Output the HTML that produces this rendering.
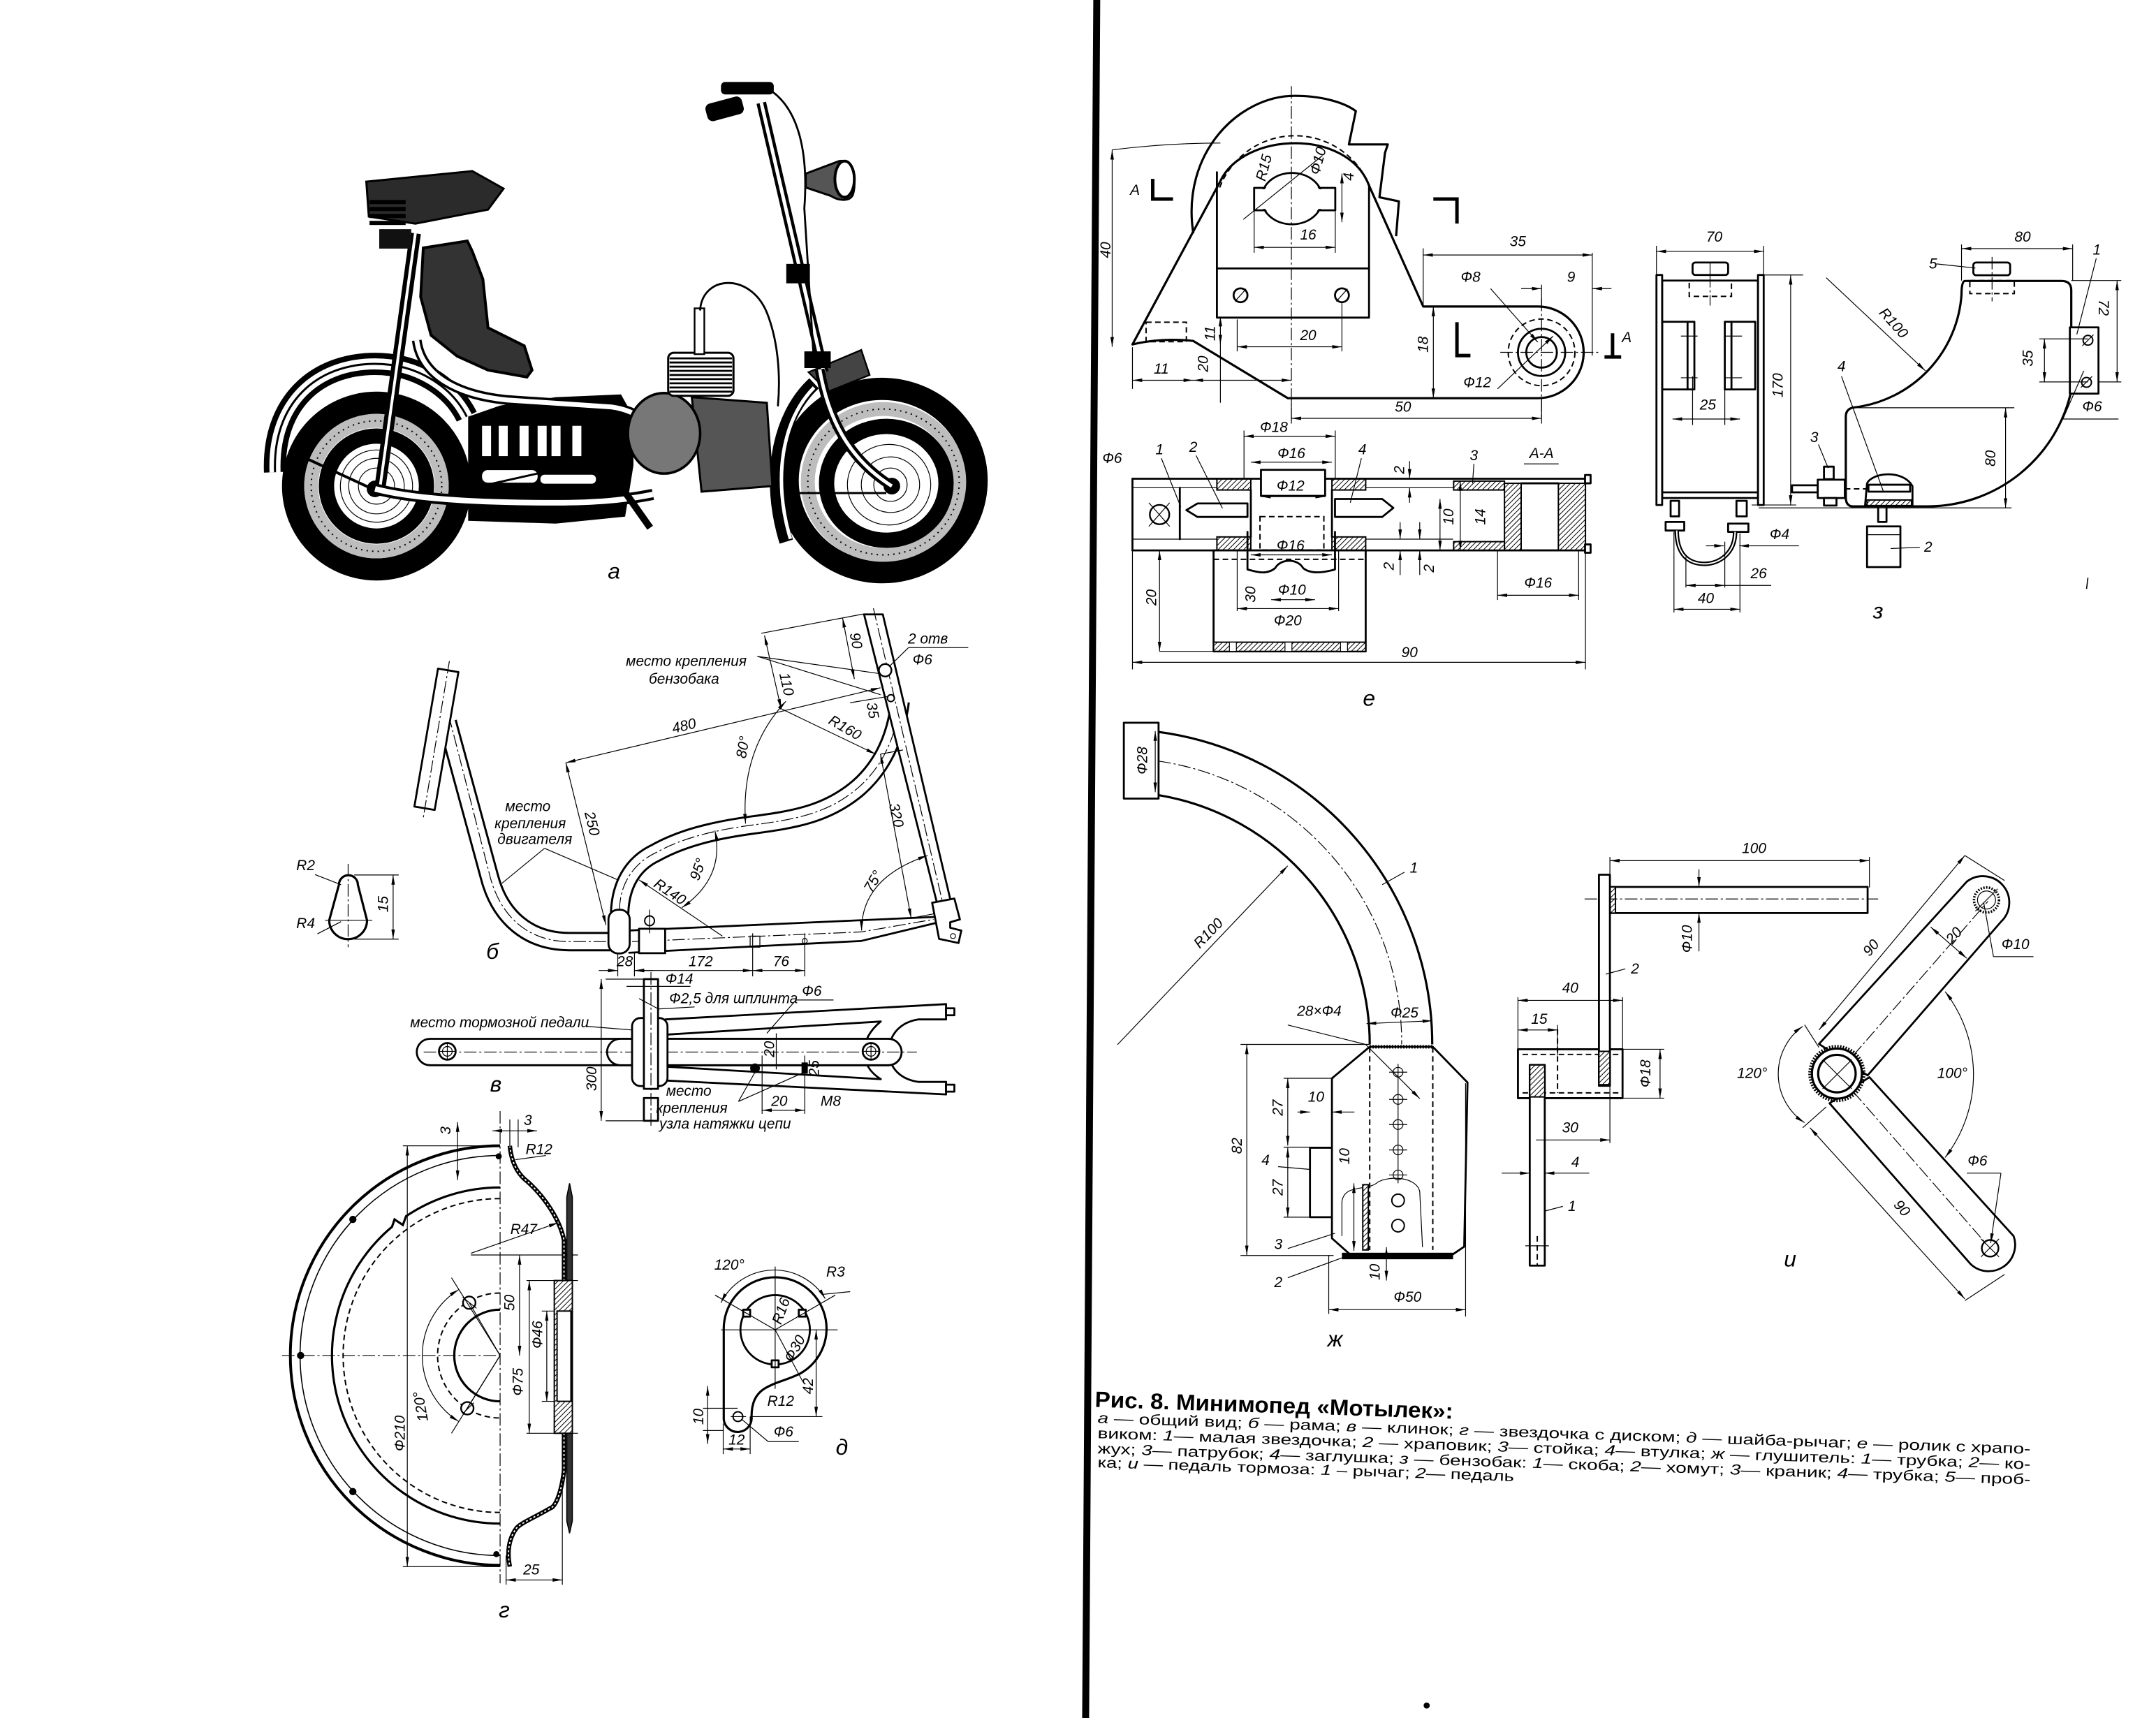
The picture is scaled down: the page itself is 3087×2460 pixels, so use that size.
<!DOCTYPE html>
<html><head><meta charset="utf-8">
<style>
html,body{margin:0;padding:0;background:#fff;}
svg{display:block;}
.o{fill:none;stroke:#000;stroke-width:1.4;stroke-linejoin:round;stroke-linecap:round}
.ow{fill:#fff;stroke:#000;stroke-width:1.4;stroke-linejoin:round}
.t{fill:none;stroke:#000;stroke-width:.6}
.m{fill:none;stroke:#000;stroke-width:.6;marker-start:url(#ar);marker-end:url(#ar)}
.me{fill:none;stroke:#000;stroke-width:.6;marker-end:url(#ar)}
.c{fill:none;stroke:#000;stroke-width:.6;stroke-dasharray:9 2 1.5 2}
.hd{fill:none;stroke:#000;stroke-width:1;stroke-dasharray:4 2.5}
.hz{fill:url(#hat);stroke:#000;stroke-width:1}
.l{font-family:"Liberation Sans",sans-serif;font-style:italic;font-size:10.5px;text-anchor:middle;dominant-baseline:central;fill:#000}
.bg{font-size:16px}
.cap{font-family:"Liberation Sans",sans-serif;fill:#000}
.i{font-style:italic}
</style></head><body>
<svg width="3087" height="2460" viewBox="0 0 1552 1237" preserveAspectRatio="none" xmlns="http://www.w3.org/2000/svg">
<defs>
<marker id="ar" viewBox="0 0 10 10" refX="10" refY="5" markerWidth="7" markerHeight="7" markerUnits="userSpaceOnUse" orient="auto-start-reverse"><path d="M0 3.2L10 5L0 6.8z" fill="#000"/></marker>
<pattern id="hat" width="2.6" height="2.6" patternUnits="userSpaceOnUse" patternTransform="rotate(45)"><rect width="2.6" height="2.6" fill="#fff"/><line x1="0" y1="0" x2="0" y2="2.6" stroke="#000" stroke-width="1"/></pattern>
</defs>
<rect width="1552" height="1237" fill="#fff"/>

<!-- gutter -->
<line x1="789.5" y1="0" x2="781.5" y2="1237" stroke="#000" stroke-width="5"/>
<circle cx="1027" cy="1228" r="2.2" fill="#000"/>
<line x1="1503" y1="416" x2="1502" y2="424" stroke="#000" stroke-width="0.8"/>

<!-- ================= MOTORCYCLE (a) ================= -->
<g>
<!-- rear wheel -->
<circle cx="271" cy="350" r="68" fill="#fff"/>
<circle cx="271" cy="350" r="60" fill="none" stroke="#000" stroke-width="16"/>
<circle cx="271" cy="350" r="47" fill="none" stroke="#bdbdbd" stroke-width="10"/>
<circle cx="271" cy="350" r="47" fill="none" stroke="#000" stroke-width="1" stroke-dasharray="1 3"/>
<circle cx="271" cy="350" r="36" fill="none" stroke="#000" stroke-width="11"/>
<circle cx="271" cy="350" r="26" class="t"/>
<circle cx="271" cy="350" r="20" class="t"/>
<circle cx="271" cy="350" r="13" class="t"/>
<circle cx="270" cy="352" r="6" fill="#000"/>
<!-- rear fender -->
<path d="M198 340 C196 290 228 262 270 262 C300 262 325 278 336 300" fill="none" stroke="#000" stroke-width="16"/>
<path d="M198 340 C196 290 228 262 270 262 C300 262 325 278 336 300" fill="none" stroke="#fff" stroke-width="8"/>
<path d="M198 340 C196 290 228 262 270 262 C300 262 325 278 336 300" fill="none" stroke="#000" stroke-width="1.5"/>

<!-- front wheel -->
<ellipse cx="635" cy="346" rx="76" ry="74" fill="#fff"/>
<ellipse cx="635" cy="346" rx="68" ry="66" fill="none" stroke="#000" stroke-width="16"/>
<ellipse cx="636" cy="347" rx="54.5" ry="52.5" fill="none" stroke="#bdbdbd" stroke-width="10"/>
<ellipse cx="636" cy="347" rx="54.5" ry="52.5" fill="none" stroke="#000" stroke-width="1" stroke-dasharray="1 3"/>
<ellipse cx="638" cy="348" rx="43" ry="41" fill="none" stroke="#000" stroke-width="11"/>
<ellipse cx="640" cy="349" rx="30" ry="29" class="t"/>
<ellipse cx="641" cy="349" rx="21" ry="20" class="t"/>
<ellipse cx="641" cy="349" rx="12" ry="12" class="t"/>
<circle cx="642" cy="350" r="6" fill="#000"/>
<path d="M586 276 C560 300 552 345 566 390" fill="none" stroke="#000" stroke-width="10"/>
<path d="M586 279 C563 302 556 345 569 388" fill="none" stroke="#fff" stroke-width="2.5"/>
<polygon points="582,268 620,252 626,270 596,282" fill="#444" stroke="#000" stroke-width="1.2"/>

<!-- body black block -->
<polygon points="337,300 360,292 400,286 447,284 456,300 456,335 450,372 400,377 337,375" fill="#000"/>
<rect x="347" y="306.6" width="6.5" height="21.8" fill="#fff"/>
<rect x="359" y="306.6" width="6.5" height="21.8" fill="#fff"/>
<rect x="374" y="306.6" width="6.5" height="21.8" fill="#fff"/>
<rect x="387" y="306.6" width="6.5" height="21.8" fill="#fff"/>
<rect x="397" y="306.6" width="6.5" height="21.8" fill="#fff"/>
<rect x="412" y="306.6" width="6.5" height="21.8" fill="#fff"/>
<rect x="347" y="338.5" width="40" height="9" rx="4" fill="#fff"/>
<rect x="389" y="341.8" width="40" height="6.5" rx="3" fill="#fff"/>
<!-- seat post -->
<path d="M299 168 L273 355" stroke="#000" stroke-width="8" fill="none"/>
<path d="M299 168 L273 355" stroke="#fff" stroke-width="2" fill="none"/>
<!-- frame tube around tank -->
<path d="M300 245 C303 268 325 284 365 288 L440 293 C455 295 465 302 472 310" stroke="#000" stroke-width="7" fill="none"/>
<path d="M300 245 C303 268 325 284 365 288 L440 293 C455 295 465 302 472 310" stroke="#fff" stroke-width="3.5" fill="none"/>
<!-- tank panel -->
<polygon points="304.7,178.5 336.4,173.5 340,181 347.6,201 351.3,236 377.4,249 383,266.5 379.3,271.5 351.3,266.5 329,256.4 310.3,241.4 302.8,213.7" fill="#333" stroke="#000" stroke-width="2"/>
<!-- seat -->
<polygon points="263.7,130.8 340,123.2 362.5,135.8 351.3,150.9 299,161 265.5,155.9" fill="#2b2b2b" stroke="#000" stroke-width="1.5"/>
<rect x="266" y="144" width="26" height="3" fill="#000"/>
<rect x="266" y="149" width="26" height="3" fill="#000"/>
<rect x="266" y="154" width="26" height="3" fill="#000"/>
<rect x="266" y="159" width="26" height="3" fill="#000"/>
<rect x="273" y="165" width="23" height="14" fill="#111"/>
<!-- lower tube -->
<path d="M270 352 C300 360 350 362 400 362 C430 362 450 360 470 356" stroke="#000" stroke-width="8" fill="none"/>
<path d="M270 352 C300 360 350 362 400 362 C430 362 450 360 470 356" stroke="#fff" stroke-width="4" fill="none"/>
<line x1="216" y1="328" x2="268" y2="352" stroke="#000" stroke-width="2"/>
<line x1="324" y1="355" x2="436" y2="330" stroke="#000" stroke-width="1.5"/>
<line x1="430" y1="326" x2="468" y2="380" stroke="#000" stroke-width="5"/>
<!-- engine -->
<path d="M498 286 L552 290 L556 350 L505 354 Z" fill="#555" stroke="#000" stroke-width="1.5"/>
<ellipse cx="478" cy="312" rx="26" ry="29" fill="#777" stroke="#000" stroke-width="1.8"/>
<rect x="481" y="254" width="47" height="31" rx="4" fill="#fff" stroke="#000" stroke-width="1.5"/>
<g stroke="#000" stroke-width="1.4">
<line x1="482" y1="258" x2="527" y2="258"/><line x1="482" y1="261" x2="527" y2="261"/><line x1="482" y1="264" x2="527" y2="264"/><line x1="482" y1="267" x2="527" y2="267"/><line x1="482" y1="270" x2="527" y2="270"/><line x1="482" y1="273" x2="527" y2="273"/><line x1="482" y1="276" x2="527" y2="276"/><line x1="482" y1="279" x2="527" y2="279"/><line x1="482" y1="282" x2="527" y2="282"/>
</g>
<rect x="500" y="222" width="7" height="33" fill="#fff" stroke="#000" stroke-width="1.2"/>
<path d="M504 223 C506 198 540 196 552 225 C560 245 562 270 560 292" class="o"/>
<!-- steering -->
<path d="M548 74 L593 268" stroke="#000" stroke-width="7" fill="none"/>
<path d="M548 74 L593 268" stroke="#fff" stroke-width="2.5" fill="none"/>
<path d="M556 66 C575 80 582 110 579 150 L586 262" class="o"/>
<rect x="508" y="72" width="27" height="13" rx="4" fill="#000" transform="rotate(-15 521 78)"/>
<rect x="519" y="59" width="38" height="9" rx="3" fill="#000"/>
<rect x="566" y="190" width="17" height="14" fill="#000"/>
<rect x="579" y="253" width="19" height="12" fill="#000"/>
<path d="M580 125 L604 116 C614 114 617 130 614 140 C612 145 604 145 598 141 L580 135 Z" fill="#555" stroke="#000" stroke-width="1.5"/>
<ellipse cx="608" cy="129" rx="7" ry="13" fill="#fff" stroke="#000" stroke-width="2"/>
<path d="M590 266 C596 300 610 330 642 350" stroke="#000" stroke-width="7" fill="none"/>
<path d="M590 266 C596 300 610 330 642 350" stroke="#fff" stroke-width="2.5" fill="none"/>
<line x1="571" y1="355" x2="638" y2="355" stroke="#000" stroke-width="1.5"/>
<text class="l bg" x="442" y="411">а</text>
</g>

<!-- ================= FRAME (б) ================= -->
<g>
<path d="M322 520 L352.5 632 C360 660 380 678 410 678 L440 678" fill="none" stroke="#000" stroke-width="14"/>
<path d="M322 520 L352.5 632 C360 660 380 678 410 678 L440 678" fill="none" stroke="#fff" stroke-width="11"/>
<path d="M446 660 C446 638 455 622 472 614 C490 604 512 598 542 594 C572 590 596 586 618 567 C636 551 645 530 648 505" fill="none" stroke="#000" stroke-width="14"/>
<path d="M446 660 C446 638 455 622 472 614 C490 604 512 598 542 594 C572 590 596 586 618 567 C636 551 645 530 648 505" fill="none" stroke="#fff" stroke-width="11"/>
<path class="c" d="M323 515 L353 632 C361 661 381 678 410 678 L440 678"/>
<path class="c" d="M446 655 C446 638 455 622 472 614 C490 604 512 598 542 594 C572 590 596 586 618 567 C636 551 645 530 648 505"/>
<polygon points="622,442.4 635.5,442.4 684.9,651 674.7,651" class="ow"/>
<line class="c" x1="628.7" y1="438" x2="680" y2="656"/>
<path class="o" d="M453 670 L678 660"/>
<path class="o" d="M453 686 L620 677.5 L676 664"/>
<path class="c" d="M455 678 L620 671 L672 662"/>
<path class="ow" d="M671 650 L687 647 L691 662 L684 664 L684 668 L692 670 L690 679 L676 676 Z"/>
<circle cx="686" cy="674" r="1.8" class="t"/>
<polygon class="ow" points="315.3,481.4 330,483.9 312.9,583.2 298.3,580.7"/>
<line class="c" x1="323.5" y1="476" x2="304.5" y2="590"/>
<rect class="ow" x="438" y="655" width="15.3" height="31.5" rx="7"/>
<rect class="ow" x="460" y="668.7" width="18.8" height="17.6"/>
<circle cx="467.6" cy="663" r="3.5" fill="#fff" stroke="#000" stroke-width="1"/>
<line class="t" x1="467.6" y1="655" x2="467.6" y2="672"/>
<rect class="t" x="540" y="674" width="7" height="8"/>
<circle cx="579.3" cy="677.5" r="1.8" class="t"/>
<line class="t" x1="579.3" y1="672" x2="579.3" y2="703"/>
<line class="t" x1="541.8" y1="672" x2="541.8" y2="703"/>
<line class="t" x1="444.7" y1="686" x2="444.7" y2="703"/>
<line class="t" x1="456.7" y1="686" x2="456.7" y2="703"/>
<line class="m" x1="407.3" y1="549.2" x2="633.8" y2="495.2"/>
<line class="m" x1="407.3" y1="549.2" x2="436.2" y2="666"/>
<line class="me" x1="520" y1="674" x2="460" y2="633.5"/>
<path class="m" d="M536.7 593 Q533 540 565.7 505"/>
<path class="m" d="M514.6 598 Q522 632 490.7 653.6"/>
<path class="m" d="M620.2 670 Q620 632 667.8 616"/>
<line class="m" x1="550.3" y1="457.5" x2="562.3" y2="510.3"/>
<line class="m" x1="606.5" y1="444.9" x2="615" y2="488.9"/>
<line class="t" x1="548" y1="456" x2="622" y2="442"/>
<line class="me" x1="562.3" y1="510.3" x2="630.4" y2="543"/>
<line class="m" x1="633.8" y1="543" x2="655.9" y2="661.1"/>
<line class="t" x1="633.8" y1="543" x2="650" y2="540"/>
<line class="t" x1="655.9" y1="661.1" x2="672" y2="658"/>
<line class="t" x1="612" y1="506" x2="642" y2="501"/>
<line class="t" x1="545.2" y1="472.6" x2="633.8" y2="485.1"/>
<line class="t" x1="545.2" y1="472.6" x2="633.8" y2="500.2"/>
<circle cx="637.2" cy="482.6" r="4.5" fill="#fff" stroke="#000" stroke-width="1.2"/>
<circle cx="641.3" cy="502.7" r="2.5" fill="#fff" stroke="#000" stroke-width="1"/>
<line class="t" x1="654" y1="466.3" x2="697" y2="466.3"/>
<line class="t" x1="654" y1="466.3" x2="640" y2="480"/>
<line class="t" x1="392" y1="610.8" x2="361.3" y2="636"/>
<line class="t" x1="392" y1="610.8" x2="444.7" y2="633.5"/>
<line class="me" x1="431" y1="698.8" x2="444.7" y2="698.8"/>
<line class="me" x1="470" y1="698.8" x2="456.7" y2="698.8"/>
<line class="m" x1="456.7" y1="698.8" x2="541.8" y2="698.8"/>
<line class="m" x1="541.8" y1="698.8" x2="579.3" y2="698.8"/>
<text class="l" x="492.4" y="522.8" transform="rotate(-13.4 492.4 522.8)">480</text>
<text class="l" x="426" y="593" transform="rotate(76 426 593)">250</text>
<text class="l" x="482.2" y="642.3" transform="rotate(34 482.2 642.3)">R140</text>
<text class="l" x="502.6" y="626" transform="rotate(-70 502.6 626)">95°</text>
<text class="l" x="535" y="538" transform="rotate(-80 535 538)">80°</text>
<text class="l" x="566" y="492.7" transform="rotate(77 566 492.7)">110</text>
<text class="l" x="616" y="461.3" transform="rotate(79 616 461.3)">90</text>
<text class="l" x="608.2" y="524.1" transform="rotate(30 608.2 524.1)">R160</text>
<text class="l" x="628" y="511.5" transform="rotate(80 628 511.5)">35</text>
<text class="l" x="668" y="460">2 отв</text>
<text class="l" x="664" y="475.1">Ф6</text>
<text class="l" x="645" y="587" transform="rotate(77 645 587)">320</text>
<text class="l" x="628.7" y="634.7" transform="rotate(-60 628.7 634.7)">75°</text>
<text class="l" x="494" y="476.3">место крепления</text>
<text class="l" x="492.4" y="488.9">бензобака</text>
<text class="l" x="380" y="580.7">место</text>
<text class="l" x="381.7" y="593.2">крепления</text>
<text class="l" x="385" y="604.5">двигателя</text>
<text class="l" x="449.8" y="692.5">28</text>
<text class="l" x="504.4" y="692.5">172</text>
<text class="l" x="562.3" y="692.5">76</text>
<text class="l bg" x="354.5" y="685">б</text>
<path class="o" style="stroke-width:1.6" d="M244 637 A6.8 6.8 0 0 1 257.6 637 L264.2 662.6 A13.6 13.6 0 0 1 237 662.6 Z"/>
<line class="c" x1="250.6" y1="622" x2="250.6" y2="682"/>
<line class="t" x1="234" y1="662.6" x2="268" y2="662.6"/>
<line class="t" x1="255" y1="630" x2="287" y2="630"/>
<line class="t" x1="255" y1="676.2" x2="287" y2="676.2"/>
<line class="m" x1="283" y1="630" x2="283" y2="676.2"/>
<line class="t" x1="226.8" y1="629.7" x2="245.5" y2="637"/>
<line class="t" x1="228.5" y1="672.4" x2="245.5" y2="663.6"/>
<text class="l" x="220" y="623.4">R2</text>
<text class="l" x="220" y="664.9">R4</text>
<text class="l" x="276" y="651" transform="rotate(-90 276 651)">15</text>
</g>

<!-- ================= TOP VIEW (в) ================= -->
<g>
<path class="o" d="M479 734 L681 723"/>
<path class="o" d="M479 745 L634 735.5"/>
<path class="o" d="M681 734 L661 734 C648 736 640 745 640 757 C640 769 648 777 661 779 L681 779"/>
<path class="o" d="M634 735.5 C626 742 622 750 622 757 C622 765 626 772 634 777"/>
<path class="o" d="M479 768 L634 777"/>
<path class="o" d="M479 778 L681 788"/>
<line class="o" x1="681" y1="723" x2="681" y2="734"/>
<line class="o" x1="681" y1="779" x2="681" y2="788"/>
<rect class="ow" x="681" y="726" width="6" height="5"/>
<rect class="ow" x="681" y="781" width="6" height="5"/>
<rect class="ow" x="300" y="748" width="349" height="19" rx="9.5"/>
<rect class="ow" x="437" y="748" width="212" height="19" rx="9.5"/>
<line class="c" x1="305" y1="757.5" x2="660" y2="757.5"/>
<circle cx="322" cy="757" r="6" class="ow"/><circle cx="322" cy="757" r="3.5" class="t"/>
<line class="t" x1="316" y1="757" x2="328" y2="757"/><line class="t" x1="322" y1="751" x2="322" y2="763"/>
<circle cx="627" cy="757" r="6" class="ow"/><circle cx="627" cy="757" r="3.5" class="t"/>
<line class="t" x1="621" y1="757" x2="633" y2="757"/><line class="t" x1="627" y1="751" x2="627" y2="763"/>
<rect class="ow" x="455" y="733" width="25.5" height="49" rx="6"/>
<rect class="ow" x="463.5" y="705" width="10.2" height="79"/>
<rect class="ow" x="463.5" y="790.6" width="10.2" height="16.4"/>
<line class="c" x1="468.6" y1="700" x2="468.6" y2="812"/>
<line class="t" x1="436" y1="705" x2="463.5" y2="705"/>
<line class="t" x1="436" y1="807" x2="463.5" y2="807"/>
<line class="m" x1="432.8" y1="705" x2="432.8" y2="807"/>
<line class="t" x1="451" y1="710.2" x2="497" y2="710.2"/>
<line class="t" x1="460" y1="719" x2="474" y2="726.5"/>
<line class="t" x1="474" y1="726.5" x2="500" y2="725"/>
<line class="t" x1="573" y1="720" x2="600" y2="720"/>
<line class="t" x1="573" y1="720" x2="552" y2="744"/>
<line class="t" x1="422.6" y1="739" x2="455" y2="741.6"/>
<circle cx="543.5" cy="769.2" r="3.5" fill="#000"/>
<rect x="577" y="765" width="4.5" height="8" fill="#000"/>
<line class="t" x1="548.6" y1="760" x2="548.6" y2="802"/>
<line class="t" x1="579.3" y1="760" x2="579.3" y2="802"/>
<line class="t" x1="558.8" y1="744" x2="558.8" y2="770"/>
<line class="m" x1="548.6" y1="799.4" x2="579.3" y2="799.4"/>
<line class="t" x1="531.6" y1="793.1" x2="543.5" y2="772"/>
<line class="t" x1="531.6" y1="793.1" x2="579" y2="772"/>
<text class="l" x="359.6" y="736.5">место тормозной педали</text>
<text class="l" x="489" y="705.1">Ф14</text>
<text class="l" x="528" y="719">Ф2,5 для шплинта</text>
<text class="l" x="584.4" y="713.9">Ф6</text>
<text class="l" x="426" y="776.8" transform="rotate(-90 426 776.8)">300</text>
<text class="l" x="554" y="755.4" transform="rotate(-90 554 755.4)">20</text>
<text class="l" x="586.1" y="769.2" transform="rotate(-90 586.1 769.2)">25</text>
<text class="l" x="561" y="793">20</text>
<text class="l" x="598" y="793.1">М8</text>
<text class="l bg" x="356.9" y="780.5">в</text>
<text class="l" x="495.8" y="785.6">место</text>
<text class="l" x="498" y="798.1">крепления</text>
<text class="l" x="522" y="809.4">узла натяжки цепи</text>
</g>

<!-- ================= DISC (г) ================= -->
<g>
<path d="M360 825 A151 151 0 0 0 360 1127" fill="none" stroke="#000" stroke-width="2"/>
<path d="M360 832 A144 144 0 0 0 360 1120" fill="none" stroke="#000" stroke-width=".8"/>
<path d="M360 855 A121 121 0 0 0 292.3 875.7 L290 882 L284 878 L282.2 883.3 A121 121 0 0 0 360 1097" fill="none" stroke="#000" stroke-width="1.6"/>
<path class="hd" d="M360 863 A113 113 0 0 0 360 1089"/>
<circle cx="254" cy="878" r="2.6" fill="#000"/>
<circle cx="216.4" cy="976" r="2.6" fill="#000"/>
<circle cx="254" cy="1074" r="2.6" fill="#000"/>
<circle cx="359" cy="832.6" r="2.2" fill="#000"/>
<circle cx="357.3" cy="1119" r="2.2" fill="#000"/>
<path d="M360 943 A33 33 0 0 0 360 1009" fill="none" stroke="#000" stroke-width="1.6"/>
<path class="hd" d="M360 931 A45 45 0 0 0 360 1021"/>
<circle cx="337.8" cy="938" r="4.5" class="ow" style="stroke-width:1.2"/>
<circle cx="336.4" cy="1014" r="4.5" class="ow" style="stroke-width:1.2"/>
<line class="t" x1="333" y1="934" x2="343" y2="942"/><line class="t" x1="333" y1="1018" x2="341" y2="1010"/>
<line class="t" x1="337.8" y1="938" x2="360" y2="976"/>
<line class="t" x1="336.4" y1="1014" x2="360" y2="976"/>
<line class="t" x1="360" y1="976" x2="325" y2="920"/>
<line class="t" x1="360" y1="976" x2="325" y2="1032"/>
<path class="m" d="M330.3 928.5 A56 56 0 0 0 330.3 1023.5"/>
<line class="c" x1="360" y1="800" x2="360" y2="1140"/>
<line class="c" x1="203" y1="976" x2="360" y2="976"/>
<line class="t" x1="290" y1="825" x2="360" y2="825"/>
<line class="t" x1="290" y1="1128" x2="360" y2="1128"/>
<line class="m" x1="293.2" y1="825" x2="293.2" y2="1128"/>
<line class="t" x1="339" y1="903.6" x2="416" y2="903.6"/>
<line class="t" x1="379" y1="922" x2="416" y2="922"/>
<line class="t" x1="379" y1="1032" x2="416" y2="1032"/>
<line class="t" x1="390" y1="944" x2="400" y2="944"/>
<line class="t" x1="390" y1="1009" x2="400" y2="1009"/>
<line class="m" x1="374" y1="903.6" x2="374" y2="976"/>
<line class="m" x1="393.6" y1="944" x2="393.6" y2="1009"/>
<line class="m" x1="381" y1="922" x2="381" y2="1032"/>
<path d="M367 825 C368 836 372 845 380 851 C392 862 403 878 406 893 L406 1059 C404 1075 400 1085 396 1086 C386 1092 376 1096 372 1100 C366 1108 365 1118 367 1128" fill="none" stroke="#000" stroke-width="3.2"/>
<path d="M367 825 C368 836 372 845 380 851 C392 862 403 878 406 893 L406 1059 C404 1075 400 1085 396 1086 C386 1092 376 1096 372 1100 C366 1108 365 1118 367 1128" fill="none" stroke="#fff" stroke-width=".9" stroke-dasharray="1.5 1.5"/>
<polygon points="410,852 412,862 412,1095 410,1104 408,1095 408,862" fill="#333" stroke="#000" stroke-width=".8"/>
<rect class="hz" x="399" y="922" width="13" height="110"/>
<rect x="401" y="944" width="10" height="65" fill="#fff" stroke="#000" stroke-width="1"/>
<line class="m" x1="354.5" y1="814.2" x2="386.6" y2="814.2"/>
<line class="t" x1="367" y1="806" x2="367" y2="826"/>
<line class="t" x1="373" y1="806" x2="373" y2="826"/>
<line class="t" x1="371" y1="835" x2="393" y2="832"/>
<line class="m" x1="329.4" y1="808" x2="329.4" y2="849.7"/>
<line class="me" x1="339" y1="902.4" x2="402" y2="880.3"/>
<line class="t" x1="364.3" y1="1120" x2="364.3" y2="1141"/>
<line class="t" x1="404.8" y1="1060" x2="404.8" y2="1141"/>
<line class="m" x1="364.3" y1="1137.6" x2="404.8" y2="1137.6"/>
<text class="l" x="380" y="806.9">3</text>
<text class="l" x="321" y="814" transform="rotate(-90 321 814)">3</text>
<text class="l" x="388" y="827.7">R12</text>
<text class="l" x="377" y="885.3">R47</text>
<text class="l" x="367" y="938" transform="rotate(-90 367 938)">50</text>
<text class="l" x="387" y="961" transform="rotate(-90 387 961)">Ф46</text>
<text class="l" x="373" y="995" transform="rotate(-90 373 995)">Ф75</text>
<text class="l" x="303" y="1012.7" transform="rotate(-100 303 1012.7)">120°</text>
<text class="l" x="288" y="1032" transform="rotate(-90 288 1032)">Ф210</text>
<text class="l" x="382.5" y="1130.3">25</text>
<text class="l bg" x="363" y="1159">г</text>
</g>

<!-- ================= WASHER (д) ================= -->
<g>
<path class="o" style="stroke-width:1.6" d="M521 957.5 A37 37 0 1 1 576 989 C566 994 558 995 550 1000 C544 1004 541 1010 541 1020 A10 10 0 0 1 521 1022 Z"/>
<circle cx="558" cy="957.5" r="25" fill="none" stroke="#000" stroke-width="1.4"/>
<rect class="ow" x="535" y="943" width="5" height="5"/>
<rect class="ow" x="575" y="943" width="5" height="5"/>
<rect class="ow" x="555.5" y="979.5" width="5" height="5"/>
<circle cx="531.2" cy="1020" r="3.5" class="ow" style="stroke-width:1"/>
<line class="t" x1="526" y1="1020" x2="537" y2="1020"/>
<line class="t" x1="519" y1="957.5" x2="603" y2="957.5"/>
<line class="t" x1="558" y1="912" x2="558" y2="1000"/>
<line class="t" x1="558" y1="957.5" x2="514.7" y2="932.5"/>
<line class="t" x1="558" y1="957.5" x2="601.3" y2="932.5"/>
<line class="t" x1="558" y1="957.5" x2="578" y2="995"/>
<path class="m" d="M519 938 A43 43 0 0 1 594 935"/>
<line class="t" x1="592" y1="932" x2="612" y2="930"/>
<line class="t" x1="540" y1="1020" x2="592" y2="1020"/>
<line class="m" x1="587.5" y1="957.5" x2="587.5" y2="1020"/>
<line class="t" x1="506" y1="1014" x2="531" y2="1014"/>
<line class="t" x1="506" y1="1030" x2="521" y2="1030"/>
<line class="m" x1="509.4" y1="998" x2="509.4" y2="1039.6"/>
<line class="t" x1="520.6" y1="1025" x2="520.6" y2="1047"/>
<line class="t" x1="540" y1="1020" x2="540" y2="1047"/>
<line class="m" x1="520.6" y1="1043.3" x2="540" y2="1043.3"/>
<line class="t" x1="534" y1="1022" x2="553" y2="1038"/>
<line class="t" x1="553" y1="1038" x2="575" y2="1038"/>
<text class="l" x="525" y="911">120°</text>
<text class="l" x="601.5" y="915.9">R3</text>
<text class="l" x="562.4" y="944" transform="rotate(-70 562.4 944)">R16</text>
<text class="l" x="572.2" y="971" transform="rotate(-60 572.2 971)">Ф30</text>
<text class="l" x="562" y="1009">R12</text>
<text class="l" x="582" y="998" transform="rotate(-90 582 998)">42</text>
<text class="l" x="503" y="1020" transform="rotate(-90 503 1020)">10</text>
<text class="l" x="530.3" y="1037">12</text>
<text class="l" x="564" y="1031">Ф6</text>
<text class="l bg" x="606" y="1042">д</text>
</g>

<!-- ================= ROLLER (е) top ================= -->
<g>
<path d="M859 168 C850 110 892 69 932 69 C952 69 968 74 976 80 L971 104 L999 104 L997 110 L993 142 L1007 145 L1005 170" fill="none" stroke="#000" stroke-width="1.6" stroke-linejoin="round"/>
<path class="hd" d="M878 135 A58 58 0 0 1 988 140"/>
<path fill="none" stroke="#000" stroke-width="1.6" stroke-linejoin="round" d="M815.2 248 L878.5 130.4 C895 95 970 92 985.5 133.6 L1024.5 220.7 L1107 220.7 A33 33 0 0 1 1107 286.7 L927 286.7 L859 245.5 Q836 243 815.2 248 Z"/>
<line class="o" x1="876" y1="124" x2="876" y2="193.3"/>
<line class="o" x1="985.5" y1="133" x2="985.5" y2="193.3"/>
<rect x="876" y="193.3" width="109.5" height="35.4" class="o"/>
<circle cx="893" cy="212.6" r="5" class="ow"/><circle cx="966" cy="212.6" r="5" class="ow"/>
<line class="t" x1="889" y1="217" x2="897" y2="208"/><line class="t" x1="962" y1="217" x2="970" y2="208"/>
<ellipse cx="930" cy="143" rx="22" ry="18.5" class="o"/>
<rect x="902.8" y="135.3" width="58.4" height="16.1" class="o"/>
<ellipse cx="930" cy="143" rx="21" ry="17.5" fill="#fff"/>
<rect x="903.8" y="136.3" width="56.4" height="14.1" fill="#fff"/>
<rect class="hd" x="825" y="232" width="29" height="14"/>
<circle cx="1109.7" cy="253.7" r="24" class="hd"/>
<circle cx="1109.7" cy="253.7" r="17" class="o"/>
<circle cx="1109.7" cy="253.7" r="11" class="o"/>
<line class="c" x1="929.6" y1="62" x2="929.6" y2="305"/>
<line class="c" x1="1080" y1="253.7" x2="1152" y2="253.7"/>
<line class="c" x1="1109.7" y1="215" x2="1109.7" y2="300"/>
<line class="t" x1="895" y1="158" x2="952" y2="112"/>
<line class="m" x1="966" y1="125" x2="966" y2="160"/>
<path d="M829.8 128.8 L829.8 143.3 L844.4 143.3" fill="none" stroke="#000" stroke-width="2.5"/>
<path d="M1031.8 143.3 L1048.8 143.3 L1048.8 161" fill="none" stroke="#000" stroke-width="2.5"/>
<path d="M1048.8 232 L1048.8 256 L1058.5 256" fill="none" stroke="#000" stroke-width="2.5"/>
<path d="M1160.8 240 L1160.8 257 M1155 257 L1167 257" fill="none" stroke="#000" stroke-width="2.5"/>
<path class="t" d="M800.6 107.9 Q840 103 878.5 103"/>
<line class="m" x1="800.6" y1="107.9" x2="800.6" y2="249.7"/>
<line class="t" x1="1024.5" y1="178.8" x2="1024.5" y2="220.7"/>
<line class="t" x1="1146.2" y1="182" x2="1146.2" y2="256"/>
<line class="m" x1="1024.5" y1="183.6" x2="1146.2" y2="183.6"/>
<line class="me" x1="1095" y1="207.8" x2="1109.7" y2="207.8"/>
<line class="me" x1="1160" y1="207.8" x2="1146.2" y2="207.8"/>
<line class="t" x1="1109.7" y1="205" x2="1109.7" y2="221"/>
<line class="me" x1="1073" y1="207.8" x2="1107" y2="246.4"/>
<line class="me" x1="1078" y1="280" x2="1118" y2="242"/>
<line class="m" x1="1031.8" y1="220.7" x2="1031.8" y2="286.7"/>
<line class="t" x1="929.6" y1="287" x2="929.6" y2="305"/>
<line class="t" x1="1109.7" y1="287" x2="1109.7" y2="305"/>
<line class="m" x1="929.6" y1="301.2" x2="1109.7" y2="301.2"/>
<line class="t" x1="890.6" y1="230" x2="890.6" y2="253"/>
<line class="t" x1="966" y1="218" x2="966" y2="253"/>
<line class="m" x1="890.6" y1="249.7" x2="966" y2="249.7"/>
<line class="t" x1="902.8" y1="152" x2="902.8" y2="182"/>
<line class="t" x1="961.2" y1="152" x2="961.2" y2="182"/>
<line class="m" x1="902.8" y1="178.1" x2="961.2" y2="178.1"/>
<line class="t" x1="815.2" y1="250" x2="815.2" y2="280"/>
<line class="t" x1="878.5" y1="245" x2="878.5" y2="290"/>
<line class="m" x1="815.2" y1="273.8" x2="859" y2="273.8"/>
<line class="m" x1="859" y1="273.8" x2="929.6" y2="273.8"/>
<line class="m" x1="878.5" y1="228" x2="878.5" y2="248"/>
<text class="l" x="796" y="180" transform="rotate(-90 796 180)">40</text>
<text class="l" x="817" y="137">A</text>
<text class="l" x="910" y="120.8" transform="rotate(-75 910 120.8)">R15</text>
<text class="l" x="949" y="115.9" transform="rotate(-75 949 115.9)">Ф10</text>
<text class="l" x="971" y="127.2" transform="rotate(-90 971 127.2)">4</text>
<text class="l" x="941.7" y="169.1">16</text>
<text class="l" x="1092.6" y="174">35</text>
<text class="l" x="1058.6" y="199.7">Ф8</text>
<text class="l" x="1131" y="199.7">9</text>
<text class="l" x="941.7" y="241.6">20</text>
<text class="l" x="871.2" y="240" transform="rotate(-90 871.2 240)">11</text>
<text class="l" x="866.3" y="262" transform="rotate(-90 866.3 262)">20</text>
<text class="l" x="836" y="265.8">11</text>
<text class="l" x="1024.5" y="248" transform="rotate(-90 1024.5 248)">18</text>
<text class="l" x="1063.4" y="275.5">Ф12</text>
<text class="l" x="1171" y="243.2">A</text>
<text class="l" x="1010" y="293.2">50</text>
</g>

<!-- ================= SECTION A-A ================= -->
<g>
<rect class="hz" x="876" y="344.7" width="24.4" height="8.1"/>
<rect class="hz" x="958.8" y="344.7" width="24.3" height="8.1"/>
<rect class="hz" x="876" y="386.6" width="24.4" height="9.7"/>
<rect class="hz" x="958.8" y="386.6" width="24.3" height="9.7"/>
<rect class="hz" x="1046.4" y="346.4" width="36.6" height="6.4"/>
<rect class="hz" x="1046.4" y="390" width="36.6" height="6.3"/>
<rect class="hz" x="1083" y="348" width="12" height="48.3"/>
<rect class="hz" x="1121.8" y="348" width="19.5" height="48.3"/>
<line class="o" x1="815.2" y1="344.7" x2="1141.3" y2="344.7"/>
<line class="o" x1="815.2" y1="396.3" x2="1141.3" y2="396.3"/>
<line class="o" x1="815.2" y1="344.7" x2="815.2" y2="396.3"/>
<line class="o" x1="849.3" y1="351.2" x2="849.3" y2="388.2"/>
<line class="t" x1="815.2" y1="351.2" x2="876" y2="351.2"/>
<line class="t" x1="815.2" y1="388.2" x2="876" y2="388.2"/>
<line class="t" x1="983" y1="351.2" x2="1046" y2="351.2"/>
<line class="t" x1="983" y1="388.2" x2="1046" y2="388.2"/>
<line class="o" x1="1095" y1="348" x2="1121.8" y2="348"/>
<line class="o" x1="1095" y1="396.3" x2="1121.8" y2="396.3"/>
<rect class="ow" x="1141" y="342" width="4" height="6"/>
<rect class="ow" x="1141" y="392" width="4" height="6"/>
<circle cx="834.7" cy="370.5" r="7" class="ow" style="stroke-width:1.2"/>
<line class="t" x1="827" y1="362" x2="842" y2="379"/><line class="t" x1="827" y1="379" x2="842" y2="362"/>
<polygon class="ow" points="854,367.3 862,362.5 898,362.5 898,372.2 862,372.2"/>
<polygon class="ow" points="961,359.3 995,359.3 1003,365.7 995,372.2 961,372.2"/>
<rect class="ow" x="907.7" y="338.3" width="46.2" height="18.7"/>
<line class="o" x1="900.4" y1="352.8" x2="900.4" y2="386.6"/>
<line class="o" x1="958.8" y1="352.8" x2="958.8" y2="386.6"/>
<rect class="hd" x="907" y="372" width="46" height="24"/>
<path class="o" d="M898 383 L898 410 C905 412 912 414 918 409 C922 402 934 402 938 409 C944 414 954 412 961 410 L961 383"/>
<rect class="o" x="873.6" y="396.3" width="109.5" height="72.7"/>
<line class="hd" x1="873.6" y1="402.7" x2="983" y2="402.7"/>
<line class="t" x1="890.6" y1="396" x2="890.6" y2="440"/>
<line class="t" x1="963.6" y1="396" x2="963.6" y2="440"/>
<rect class="hz" x="873.6" y="462.4" width="109.5" height="6.6"/>
<rect x="885" y="462.4" width="5" height="6.6" fill="#fff" stroke="#000" stroke-width=".6"/>
<rect x="925" y="462.4" width="5" height="6.6" fill="#fff" stroke="#000" stroke-width=".6"/>
<rect x="965" y="462.4" width="5" height="6.6" fill="#fff" stroke="#000" stroke-width=".6"/>
<line class="t" x1="895.5" y1="310" x2="895.5" y2="345"/>
<line class="t" x1="961.2" y1="310" x2="961.2" y2="345"/>
<line class="m" x1="895.5" y1="314.1" x2="961.2" y2="314.1"/>
<line class="m" x1="900.4" y1="332.8" x2="958.8" y2="332.8"/>
<line class="m" x1="907.7" y1="357.6" x2="953.9" y2="357.6"/>
<line class="m" x1="900.4" y1="399.5" x2="958.8" y2="399.5"/>
<line class="m" x1="915" y1="431.8" x2="946.6" y2="431.8"/>
<line class="m" x1="890.6" y1="438.2" x2="963.6" y2="438.2"/>
<line class="t" x1="834.7" y1="469" x2="873.6" y2="469"/>
<line class="m" x1="834.7" y1="396.3" x2="834.7" y2="469"/>
<line class="t" x1="815.2" y1="396" x2="815.2" y2="482"/>
<line class="t" x1="1141.3" y1="396" x2="1141.3" y2="482"/>
<line class="m" x1="815.2" y1="476.9" x2="1141.3" y2="476.9"/>
<line class="t" x1="1078" y1="396" x2="1078" y2="432"/>
<line class="t" x1="1136.4" y1="396" x2="1136.4" y2="432"/>
<line class="m" x1="1078" y1="428.6" x2="1136.4" y2="428.6"/>
<line class="m" x1="1036.6" y1="359.3" x2="1036.6" y2="396.3"/>
<line class="m" x1="1051.2" y1="346.4" x2="1051.2" y2="396.3"/>
<line class="me" x1="1014.7" y1="332" x2="1014.7" y2="344.7"/>
<line class="me" x1="1014.7" y1="362" x2="1014.7" y2="351.2"/>
<line class="me" x1="1007.9" y1="376" x2="1007.9" y2="388.2"/>
<line class="me" x1="1007.9" y1="414" x2="1007.9" y2="396.3"/>
<line class="me" x1="1022" y1="376" x2="1022" y2="388.2"/>
<line class="me" x1="1022" y1="414" x2="1022" y2="396.3"/>
<line class="t" x1="836" y1="330" x2="850" y2="365"/>
<line class="t" x1="861" y1="328" x2="880" y2="366"/>
<line class="t" x1="980" y1="330" x2="972" y2="362"/>
<line class="t" x1="1061" y1="334" x2="1060" y2="348"/>
<line class="t" x1="1097" y1="334" x2="1122" y2="334"/>
<text class="l" x="800.6" y="330.2">Ф6</text>
<text class="l" x="834.7" y="323.8">1</text>
<text class="l" x="859" y="322.2">2</text>
<text class="l" x="917" y="307.7">Ф18</text>
<text class="l" x="929.6" y="326.5">Ф16</text>
<text class="l" x="980.7" y="323.8">4</text>
<text class="l" x="1061" y="328">3</text>
<text class="l" x="1109.7" y="326.5">A-A</text>
<text class="l" x="929" y="350">Ф12</text>
<text class="l" x="1007.5" y="338.3" transform="rotate(-90 1007.5 338.3)">2</text>
<text class="l" x="1043" y="372.1" transform="rotate(-90 1043 372.1)">10</text>
<text class="l" x="1065.9" y="372.1" transform="rotate(-90 1065.9 372.1)">14</text>
<text class="l" x="929" y="393.1">Ф16</text>
<text class="l" x="1000" y="407.6" transform="rotate(-90 1000 407.6)">2</text>
<text class="l" x="1029" y="409.2" transform="rotate(-90 1029 409.2)">2</text>
<text class="l" x="900.4" y="428" transform="rotate(-90 900.4 428)">30</text>
<text class="l" x="930" y="425">Ф10</text>
<text class="l" x="927" y="447">Ф20</text>
<text class="l" x="829" y="430.2" transform="rotate(-90 829 430.2)">20</text>
<text class="l" x="1107.2" y="420">Ф16</text>
<text class="l" x="1014.7" y="470">90</text>
<text class="l bg" x="985.5" y="502.7">е</text>
</g>

<!-- ================= TANK (з) ================= -->
<g>
<rect class="ow" x="1192.4" y="198" width="4.1" height="165.6"/>
<rect class="ow" x="1265.5" y="198" width="4.1" height="165.6"/>
<rect class="o" x="1196.5" y="202" width="69" height="156.6"/>
<line class="o" x1="1196.5" y1="354.5" x2="1265.5" y2="354.5"/>
<rect class="ow" x="1218.4" y="189" width="25.6" height="9" rx="2"/>
<line class="t" x1="1231" y1="189" x2="1231" y2="198"/>
<rect class="hd" x="1216" y="202" width="30.4" height="11.4"/>
<line class="c" x1="1231" y1="198" x2="1231" y2="220"/>
<rect class="o" x="1196.5" y="231.7" width="23.2" height="48.7"/>
<line class="o" x1="1214.8" y1="231.7" x2="1214.8" y2="280.4"/>
<rect class="o" x="1241.6" y="231.7" width="21.9" height="48.7"/>
<line class="o" x1="1246.4" y1="231.7" x2="1246.4" y2="280.4"/>
<line class="t" x1="1210" y1="242" x2="1222" y2="242"/><line class="t" x1="1210" y1="272" x2="1222" y2="272"/>
<line class="t" x1="1242" y1="242" x2="1254" y2="242"/><line class="t" x1="1242" y1="272" x2="1254" y2="272"/>
<rect class="ow" x="1202.6" y="360.6" width="6.1" height="11.2"/>
<rect class="ow" x="1250" y="360.6" width="7.4" height="11.2"/>
<rect class="ow" x="1199" y="375.8" width="13.4" height="6.2"/>
<rect class="ow" x="1244" y="377" width="14.6" height="6"/>
<path d="M1207 382 C1207 400 1216 406 1227 406 C1238 406 1249 398 1249 383" fill="none" stroke="#000" stroke-width="3.2"/>
<path d="M1207 382 C1207 400 1216 406 1227 406 C1238 406 1249 398 1249 383" fill="none" stroke="#fff" stroke-width="1"/>
<line class="t" x1="1192.4" y1="177" x2="1192.4" y2="198"/>
<line class="t" x1="1269.6" y1="177" x2="1269.6" y2="198"/>
<line class="m" x1="1192.4" y1="181" x2="1269.6" y2="181"/>
<line class="t" x1="1270" y1="198" x2="1298" y2="198"/>
<line class="t" x1="1261" y1="363.6" x2="1293" y2="363.6"/>
<line class="m" x1="1289" y1="198" x2="1289" y2="363.6"/>
<line class="t" x1="1218.4" y1="271" x2="1218.4" y2="306"/>
<line class="t" x1="1241.6" y1="273" x2="1241.6" y2="306"/>
<line class="m" x1="1204" y1="301.7" x2="1252.5" y2="301.7"/>
<line class="me" x1="1228" y1="393" x2="1241" y2="393"/>
<line class="me" x1="1295" y1="393" x2="1252" y2="393"/>
<line class="t" x1="1205" y1="383" x2="1205" y2="441"/>
<line class="t" x1="1252.5" y1="384" x2="1252.5" y2="441"/>
<line class="t" x1="1213.6" y1="401" x2="1213.6" y2="423"/>
<line class="t" x1="1241.6" y1="390" x2="1241.6" y2="423"/>
<line class="m" x1="1213.6" y1="421.5" x2="1241.6" y2="421.5"/>
<line class="t" x1="1241.6" y1="421.5" x2="1275" y2="421.5"/>
<line class="m" x1="1205" y1="438.7" x2="1252.5" y2="438.7"/>
<text class="l" x="1234" y="170.8">70</text>
<text class="l" x="1280" y="277.4" transform="rotate(-90 1280 277.4)">170</text>
<text class="l" x="1229.4" y="291.6">25</text>
<text class="l" x="1281" y="385">Ф4</text>
<text class="l" x="1266" y="413">26</text>
<text class="l" x="1228" y="431">40</text>
<path fill="none" stroke="#000" stroke-width="1.6" stroke-linejoin="round" d="M1414.5 202.3 L1484 202.3 Q1491 202.3 1491 209 L1491 281.4 A106 106 0 0 1 1387.7 364.6 L1334 364.6 Q1328.7 364.6 1328.7 358 L1328.7 300 Q1328.7 293.6 1336 293.2 A88 88 0 0 0 1412 212 Q1412 202.3 1414.5 202.3 Z"/>
<rect class="ow" x="1490" y="235.7" width="20.6" height="47.7"/>
<circle cx="1503" cy="245" r="3.5" class="ow" style="stroke-width:1"/>
<circle cx="1502" cy="275.3" r="3.5" class="ow" style="stroke-width:1"/>
<line class="t" x1="1499" y1="249" x2="1507" y2="241"/><line class="t" x1="1498" y1="279" x2="1506" y2="271"/>
<rect class="ow" x="1420.5" y="189" width="26.5" height="9.2" rx="2"/>
<rect class="hd" x="1418" y="202" width="32" height="9.4"/>
<line class="c" x1="1434" y1="185" x2="1434" y2="217"/>
<rect class="ow" x="1290" y="349.4" width="18.5" height="5.1"/>
<rect class="ow" x="1308.5" y="345.4" width="19.5" height="13.2"/>
<rect class="ow" x="1313" y="336" width="7" height="9"/>
<rect class="ow" x="1313" y="358.6" width="9" height="5.4"/>
<line class="hd" x1="1328" y1="352" x2="1345" y2="352"/>
<path class="ow" d="M1342.6 363.6 L1344 348 C1348 340 1370 338 1376.7 350 L1376.7 363.6 Z"/>
<rect class="o" x="1345" y="349" width="30" height="5"/>
<rect class="hz" x="1344" y="360" width="32" height="4"/>
<rect class="ow" x="1352" y="364.6" width="6" height="11.2"/>
<rect class="ow" x="1344" y="379" width="24" height="29.3"/>
<line class="t" x1="1344" y1="385" x2="1368" y2="385"/>
<line class="t" x1="1412" y1="176" x2="1412" y2="202"/>
<line class="t" x1="1492" y1="176" x2="1492" y2="202"/>
<line class="m" x1="1412" y1="179" x2="1492" y2="179"/>
<line class="t" x1="1394" y1="190" x2="1422" y2="193"/>
<line class="t" x1="1509" y1="186" x2="1495" y2="240.8"/>
<line class="me" x1="1314.6" y1="200" x2="1386" y2="267"/>
<line class="t" x1="1491" y1="202" x2="1527" y2="202"/>
<line class="t" x1="1510" y1="275" x2="1527" y2="275"/>
<line class="m" x1="1524" y1="202" x2="1524" y2="275"/>
<line class="t" x1="1468" y1="244" x2="1503" y2="244"/>
<line class="t" x1="1468" y1="275" x2="1503" y2="275"/>
<line class="m" x1="1471.7" y1="244" x2="1471.7" y2="275"/>
<line class="t" x1="1485" y1="301.7" x2="1525" y2="301.7"/>
<line class="t" x1="1485" y1="301.7" x2="1500" y2="267"/>
<line class="t" x1="1336.5" y1="293.6" x2="1450" y2="293.6"/>
<line class="m" x1="1443.7" y1="293.6" x2="1443.7" y2="365.7"/>
<line class="t" x1="1266" y1="365.7" x2="1448" y2="365.7"/>
<line class="t" x1="1309" y1="320" x2="1316" y2="337"/>
<line class="t" x1="1325.6" y1="271" x2="1356" y2="354.5"/>
<line class="t" x1="1361" y1="395" x2="1382" y2="394"/>
<text class="l" x="1456" y="170.8">80</text>
<text class="l" x="1391.5" y="190">5</text>
<text class="l" x="1509.4" y="180">1</text>
<text class="l" x="1363" y="232.7" transform="rotate(48 1363 232.7)">R100</text>
<text class="l" x="1514" y="221.5" transform="rotate(90 1514 221.5)">72</text>
<text class="l" x="1460" y="258" transform="rotate(-90 1460 258)">35</text>
<text class="l" x="1506" y="293">Ф6</text>
<text class="l" x="1433" y="330" transform="rotate(-90 1433 330)">80</text>
<text class="l" x="1306" y="315">3</text>
<text class="l" x="1325.6" y="264">4</text>
<text class="l" x="1388" y="394">2</text>
<text class="l bg" x="1352" y="439.8">з</text>
</g>

<!-- ================= MUFFLER (ж) ================= -->
<g>
<path d="M834 527 A227 227 0 0 1 1031 752" fill="none" stroke="#000" stroke-width="1.6"/>
<path d="M834 572.5 A182 182 0 0 1 986 752" fill="none" stroke="#000" stroke-width="1.6"/>
<path class="c" d="M834 548 A205 205 0 0 1 1009 752"/>
<rect class="ow" x="809" y="520.4" width="25" height="54.6"/>
<line class="m" x1="831.6" y1="526.4" x2="831.6" y2="570.4"/>
<line class="me" x1="804.4" y1="752.2" x2="927" y2="623.4"/>
<line class="t" x1="995" y1="637" x2="1011" y2="628"/>
<path class="ow" d="M986 753.7 L1031.4 753.7 L1056.4 779.4 L1054 897.6 L1045 903.7 L972.4 903.7 L958.8 891.6 L958.8 776.4 Z"/>
<line class="hd" x1="986" y1="754" x2="986" y2="900"/>
<line class="hd" x1="1031.4" y1="754" x2="1031.4" y2="900"/>
<line x1="986" y1="753.7" x2="1031.4" y2="753.7" stroke="#000" stroke-width="2.5" stroke-dasharray="1 1"/>
<g class="t">
<circle cx="1006.4" cy="772" r="3.5"/><circle cx="1006.4" cy="791.6" r="3.5"/><circle cx="1006.4" cy="809.7" r="3.5"/><circle cx="1006.4" cy="828" r="3.5"/><circle cx="1006.4" cy="846" r="3.5"/>
<line x1="1000" y1="772" x2="1013" y2="772"/><line x1="1000" y1="791.6" x2="1013" y2="791.6"/><line x1="1000" y1="809.7" x2="1013" y2="809.7"/><line x1="1000" y1="828" x2="1013" y2="828"/><line x1="1000" y1="846" x2="1013" y2="846"/>
<line x1="1006.4" y1="766" x2="1006.4" y2="852"/>
</g>
<rect class="ow" x="943" y="826.4" width="15.8" height="50"/>
<path class="t" d="M966 890 L966 865 C968 852 985 858 992 851 C1002 846 1020 848 1022 858 L1024 898"/>
<rect class="hz" x="981" y="853" width="4" height="47"/>
<circle cx="1006.4" cy="864.3" r="4.5" class="ow" style="stroke-width:1"/>
<circle cx="1006.4" cy="882.5" r="4.5" class="ow" style="stroke-width:1"/>
<rect x="966" y="902" width="80" height="4.7" fill="#000"/>
<line class="m" x1="983.7" y1="737" x2="1031" y2="735"/>
<line class="t" x1="927" y1="738" x2="983" y2="752"/>
<line class="me" x1="983" y1="752" x2="1022" y2="791"/>
<line class="t" x1="893" y1="752" x2="986" y2="752"/>
<line class="t" x1="893" y1="904" x2="960" y2="904"/>
<line class="m" x1="897.5" y1="752" x2="897.5" y2="903.7"/>
<line class="t" x1="924" y1="776.4" x2="960" y2="776.4"/>
<line class="t" x1="924" y1="876.4" x2="944" y2="876.4"/>
<line class="t" x1="924" y1="826" x2="944" y2="826"/>
<line class="m" x1="927" y1="776.4" x2="927" y2="824.9"/>
<line class="m" x1="927" y1="826.4" x2="927" y2="876.4"/>
<line class="me" x1="934" y1="800.7" x2="943" y2="800.7"/>
<line class="me" x1="975" y1="800.7" x2="958.8" y2="800.7"/>
<line class="t" x1="920" y1="840" x2="943" y2="842"/>
<line class="m" x1="974.6" y1="852" x2="974.6" y2="900.6"/>
<line class="m" x1="998" y1="898" x2="998" y2="922"/>
<line class="t" x1="927" y1="899" x2="961" y2="888"/>
<line class="t" x1="927" y1="920" x2="972" y2="903.5"/>
<line class="t" x1="956.5" y1="904" x2="956.5" y2="946"/>
<line class="t" x1="1055" y1="780" x2="1055" y2="948"/>
<line class="m" x1="956.5" y1="943" x2="1055" y2="943"/>
<text class="l" x="822.6" y="547.6" transform="rotate(-90 822.6 547.6)">Ф28</text>
<text class="l" x="1017.8" y="625">1</text>
<text class="l" x="870" y="672" transform="rotate(-46 870 672)">R100</text>
<text class="l" x="949.7" y="728">28×Ф4</text>
<text class="l" x="1011" y="729.5">Ф25</text>
<text class="l" x="890.7" y="825" transform="rotate(-90 890.7 825)">82</text>
<text class="l" x="920" y="797.6" transform="rotate(-90 920 797.6)">27</text>
<text class="l" x="920" y="855" transform="rotate(-90 920 855)">27</text>
<text class="l" x="947.4" y="790">10</text>
<text class="l" x="911" y="835.5">4</text>
<text class="l" x="968" y="832.5" transform="rotate(-90 968 832.5)">10</text>
<text class="l" x="990" y="915.8" transform="rotate(-90 990 915.8)">10</text>
<text class="l" x="920.2" y="896">3</text>
<text class="l" x="920.2" y="923.4">2</text>
<text class="l" x="1013.2" y="934">Ф50</text>
<text class="l bg" x="961" y="964">ж</text>
</g>

<!-- ================= PEDAL (и) ================= -->
<g>
<rect class="ow" x="1158.9" y="638.6" width="185.5" height="18.8"/>
<rect class="hz" x="1158.9" y="638.6" width="4" height="18.8"/>
<line class="c" x1="1140.7" y1="647.3" x2="1352" y2="647.3"/>
<rect class="ow" x="1092.7" y="755.5" width="75.3" height="35.2"/>
<line class="hd" x1="1096" y1="759.2" x2="1165" y2="759.2"/>
<line class="hd" x1="1096" y1="786.9" x2="1165" y2="786.9"/>
<line class="hd" x1="1121.2" y1="741" x2="1121.2" y2="787"/>
<rect class="ow" x="1151" y="629.8" width="7.9" height="152"/>
<rect class="hz" x="1151" y="757" width="7.9" height="24"/>
<rect class="ow" x="1101.2" y="766.8" width="10.8" height="144.5"/>
<rect class="hz" x="1101.2" y="766.8" width="10.8" height="23"/>
<line class="t" x1="1098" y1="897" x2="1115" y2="897"/>
<line class="hd" x1="1106.6" y1="890" x2="1106.6" y2="911"/>
<line class="t" x1="1158.9" y1="617" x2="1158.9" y2="639"/>
<line class="t" x1="1345.7" y1="617" x2="1345.7" y2="639"/>
<line class="m" x1="1158.9" y1="619.7" x2="1345.7" y2="619.7"/>
<line class="me" x1="1223" y1="626" x2="1223" y2="638.6"/>
<line class="me" x1="1223" y1="685" x2="1223" y2="657.4"/>
<line class="t" x1="1156" y1="701.4" x2="1170" y2="697.6"/>
<line class="t" x1="1092.7" y1="718" x2="1092.7" y2="755"/>
<line class="t" x1="1168" y1="718" x2="1168" y2="755"/>
<line class="m" x1="1092.7" y1="720.3" x2="1168" y2="720.3"/>
<line class="t" x1="1121.2" y1="738" x2="1121.2" y2="760"/>
<line class="m" x1="1092.7" y1="741.6" x2="1121.2" y2="741.6"/>
<line class="t" x1="1168" y1="755.5" x2="1198" y2="755.5"/>
<line class="t" x1="1168" y1="790.7" x2="1198" y2="790.7"/>
<line class="m" x1="1195" y1="755.5" x2="1195" y2="790.7"/>
<line class="t" x1="1158.9" y1="782" x2="1158.9" y2="823"/>
<line class="me" x1="1105.6" y1="820.8" x2="1158.9" y2="820.8"/>
<line class="me" x1="1081" y1="844.7" x2="1101.2" y2="844.7"/>
<line class="me" x1="1144" y1="844.7" x2="1112" y2="844.7"/>
<line class="t" x1="1112" y1="872" x2="1125" y2="868.6"/>
<path class="ow" d="M1309.4 751.7 L1415.8 634.8 A19 19 0 0 1 1440.4 663.7 L1344.4 774.3 Z"/>
<path class="ow" d="M1345.7 775.6 L1449.5 890 A19 19 0 0 1 1418.4 910 L1317 794.4 Z"/>
<circle cx="1322.3" cy="773" r="19.5" fill="none" stroke="#000" stroke-width="2.2" stroke-dasharray="1 1"/>
<circle cx="1322.3" cy="773" r="18" fill="#fff" stroke="#000" stroke-width="1.6"/>
<circle cx="1322.3" cy="773" r="13.5" fill="none" stroke="#000" stroke-width="1.6"/>
<line class="t" x1="1312" y1="763" x2="1333" y2="784"/><line class="t" x1="1312" y1="784" x2="1333" y2="763"/>
<line class="c" x1="1334" y1="760" x2="1431" y2="649"/>
<line class="c" x1="1334" y1="786" x2="1432.6" y2="898.8"/>
<circle cx="1430" cy="648" r="9" fill="none" stroke="#000" stroke-width="1.8" stroke-dasharray="1 1"/>
<circle cx="1430" cy="648" r="6.5" class="t"/>
<line class="t" x1="1422" y1="656" x2="1438" y2="640"/>
<circle cx="1432.6" cy="898.8" r="6" class="ow" style="stroke-width:1.2"/>
<line class="t" x1="1426" y1="905" x2="1439" y2="892"/><line class="t" x1="1426" y1="892" x2="1439" y2="905"/>
<line class="m" x1="1309.4" y1="741.6" x2="1414.4" y2="616"/>
<line class="t" x1="1414.4" y1="616" x2="1443" y2="634"/>
<line class="m" x1="1389.8" y1="667.5" x2="1415.8" y2="690"/>
<line class="t" x1="1428" y1="650" x2="1435" y2="688.8"/>
<line class="t" x1="1435" y1="688.8" x2="1463.8" y2="688.8"/>
<line class="t" x1="1299" y1="737.9" x2="1309.4" y2="754.2"/>
<line class="t" x1="1297.7" y1="812" x2="1314.6" y2="797"/>
<path class="m" d="M1297.7 739 A42 42 0 0 0 1299 808.3"/>
<path class="m" d="M1400.2 714 A97.5 97.5 0 0 1 1400.2 833.4"/>
<line class="m" x1="1302.9" y1="812" x2="1414.4" y2="935.2"/>
<line class="t" x1="1414.4" y1="936.5" x2="1443" y2="917.6"/>
<line class="t" x1="1415.8" y1="844.7" x2="1440.4" y2="844.7"/>
<line class="me" x1="1440.4" y1="844.7" x2="1433" y2="895"/>
<text class="l" x="1262.7" y="611">100</text>
<text class="l" x="1214.6" y="676" transform="rotate(-90 1214.6 676)">Ф10</text>
<text class="l" x="1177" y="697.6">2</text>
<text class="l" x="1130.3" y="711.5">40</text>
<text class="l" x="1108" y="734">15</text>
<text class="l" x="1184.8" y="773" transform="rotate(-90 1184.8 773)">Ф18</text>
<text class="l" x="1130.3" y="812">30</text>
<text class="l" x="1134" y="837">4</text>
<text class="l" x="1131.6" y="868.6">1</text>
<text class="l" x="1347" y="682.5" transform="rotate(-50 1347 682.5)">90</text>
<text class="l" x="1406.7" y="673.7" transform="rotate(-50 1406.7 673.7)">20</text>
<text class="l" x="1450.8" y="680">Ф10</text>
<text class="l" x="1261.3" y="773">120°</text>
<text class="l" x="1405.4" y="773">100°</text>
<text class="l" x="1369" y="870" transform="rotate(48 1369 870)">90</text>
<text class="l" x="1423.5" y="836">Ф6</text>
<text class="l bg" x="1288.6" y="906.3">и</text>
</g>

<!-- ================= CAPTION ================= -->
<text class="cap" x="788" y="1013" font-size="16" font-weight="bold" textLength="258" lengthAdjust="spacingAndGlyphs" transform="rotate(1.9 788 1013)">Рис. 8. Минимопед «Мотылек»:</text>
<text class="cap" x="790" y="1024.5" font-size="10.5" textLength="672" lengthAdjust="spacingAndGlyphs" transform="rotate(1.9 790 1024.5)"><tspan class="i">а</tspan> — общий вид; <tspan class="i">б</tspan> — рама; <tspan class="i">в</tspan> — клинок; <tspan class="i">г</tspan> — звездочка с диском; <tspan class="i">д</tspan> — шайба-рычаг; <tspan class="i">е</tspan> — ролик с храпо-</text>
<text class="cap" x="790" y="1035.5" font-size="10.5" textLength="672" lengthAdjust="spacingAndGlyphs" transform="rotate(1.9 790 1035.5)">виком: <tspan class="i">1</tspan>— малая звездочка; <tspan class="i">2</tspan> — храповик; <tspan class="i">3</tspan>— стойка; <tspan class="i">4</tspan>— втулка; <tspan class="i">ж</tspan> — глушитель: <tspan class="i">1</tspan>— трубка; <tspan class="i">2</tspan>— ко-</text>
<text class="cap" x="790" y="1046.5" font-size="10.5" textLength="672" lengthAdjust="spacingAndGlyphs" transform="rotate(1.9 790 1046.5)">жух; <tspan class="i">3</tspan>— патрубок; <tspan class="i">4</tspan>— заглушка; <tspan class="i">з</tspan> — бензобак: <tspan class="i">1</tspan>— скоба; <tspan class="i">2</tspan>— хомут; <tspan class="i">3</tspan>— краник; <tspan class="i">4</tspan>— трубка; <tspan class="i">5</tspan>— проб-</text>
<text class="cap" x="790" y="1056.5" font-size="10.5" textLength="300" lengthAdjust="spacingAndGlyphs" transform="rotate(1.9 790 1056.5)">ка; <tspan class="i">и</tspan> — педаль тормоза: <tspan class="i">1</tspan> – рычаг; <tspan class="i">2</tspan>— педаль</text>
</svg>
</body></html>
